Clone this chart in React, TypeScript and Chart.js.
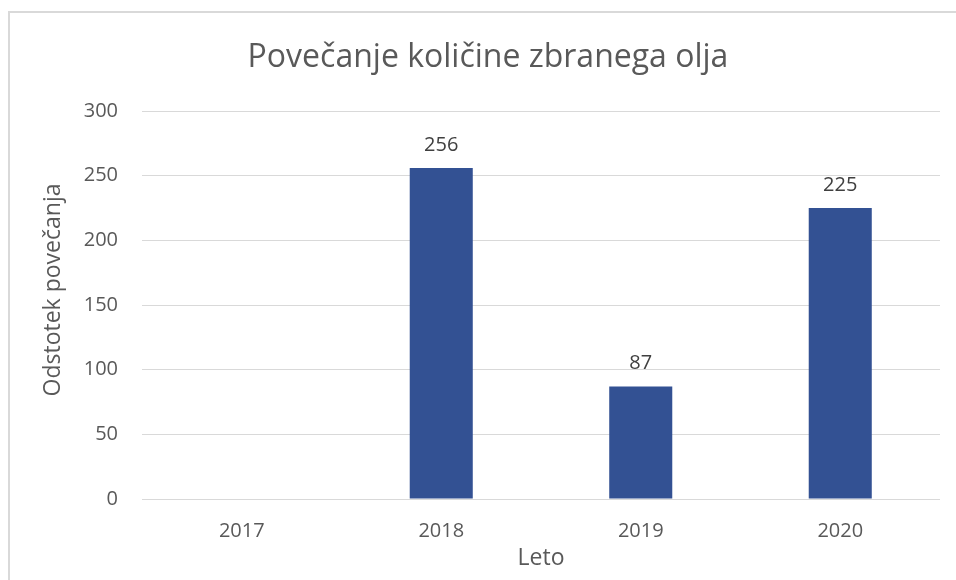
import React, { useEffect, useRef } from "react";
import { Chart, registerables } from "chart.js";

Chart.register(...registerables);

const categories = ["2017", "2018", "2019", "2020"];
const values: (number | null)[] = [null, 256, 87, 225];
const yMin = 0;
const yMax = 300;
const yStep = 50;

const chartTitle = "Povečanje količine zbranega olja";
const yTitle = "Odstotek povečanja";
const xTitle = "Leto";

const FONT = "'Open Sans', 'Noto Sans', sans-serif";

const borderPlugin = {
  id: "frameBorder",
  beforeDraw(chart: any) {
    const ctx = chart.ctx;
    ctx.save();
    ctx.fillStyle = "#ffffff";
    ctx.fillRect(0, 0, chart.width, chart.height);
    ctx.fillStyle = "#d9d9d9";
    ctx.fillRect(8, 11, chart.width - 8, 2);
    ctx.fillRect(8, 11, 2, chart.height - 11);
    ctx.restore();
  },
};

const yTitlePlugin = {
  id: "yAxisTitle",
  afterDraw(chart: any) {
    const ctx = chart.ctx;
    const area = chart.chartArea;
    ctx.save();
    ctx.font = `23px ${FONT}`;
    ctx.fillStyle = "#595959";
    ctx.textAlign = "center";
    ctx.textBaseline = "middle";
    ctx.translate(53, (area.top + area.bottom) / 2 - 15);
    ctx.rotate(-Math.PI / 2);
    ctx.fillText(yTitle, 0, 0);
    ctx.restore();
  },
};

const labelPlugin = {
  id: "barValueLabels",
  afterDatasetsDraw(chart: any) {
    const ctx = chart.ctx;
    const meta = chart.getDatasetMeta(0);
    ctx.save();
    ctx.font = `20px ${FONT}`;
    ctx.fillStyle = "#404040";
    ctx.textAlign = "center";
    ctx.textBaseline = "middle";
    meta.data.forEach((bar: any, i: number) => {
      const v = values[i];
      if (v === null || v === undefined) return;
      ctx.fillText(String(v), bar.x, bar.y - 23);
    });
    ctx.restore();
  },
};

export default function App() {
  const ref = useRef<HTMLCanvasElement>(null);

  useEffect(() => {
    document.body.style.margin = "0";
    document.body.style.overflow = "hidden";
    const chart = new Chart(ref.current as HTMLCanvasElement, {
      type: "bar",
      data: {
        labels: categories,
        datasets: [
          {
            data: values as any,
            backgroundColor: "#335193",
            barPercentage: 0.632,
            categoryPercentage: 0.5,
          },
        ],
      },
      options: {
        responsive: false,
        animation: false,
        layout: { padding: { left: 36, right: 16, top: 0, bottom: 0 } },
        plugins: {
          legend: { display: false },
          tooltip: { enabled: false },
          title: {
            display: true,
            text: chartTitle,
            color: "#595959",
            font: { family: FONT, size: 32, weight: "normal" as any },
            padding: { top: 38.8, bottom: 33.8 },
          },
        },
        scales: {
          x: {
            grid: { display: false },
            border: { display: false },
            ticks: {
              color: "#595959",
              font: { family: FONT, size: 20 },
              padding: 12,
              maxRotation: 0,
            },
            title: {
              display: true,
              text: xTitle,
              color: "#595959",
              font: { family: FONT, size: 23 },
              padding: { top: 0, bottom: 8 },
            },
            afterFit(scale: any) {
              scale.height = 81;
            },
          },
          y: {
            min: yMin,
            max: yMax,
            grid: { color: "#d9d9d9", drawTicks: false, lineWidth: 1 },
            border: { display: false },
            ticks: {
              stepSize: yStep,
              color: "#595959",
              font: { family: FONT, size: 20 },
              padding: 24,
            },
            title: { display: false },
            afterFit(scale: any) {
              scale.width = 106;
            },
          },
        },
      },
      plugins: [borderPlugin, labelPlugin, yTitlePlugin],
    });
    return () => chart.destroy();
  }, []);

  return (
    <canvas
      ref={ref}
      width={956}
      height={580}
      style={{ position: "fixed", left: 0, top: 0, display: "block", width: 956, height: 580 }}
    />
  );
}
